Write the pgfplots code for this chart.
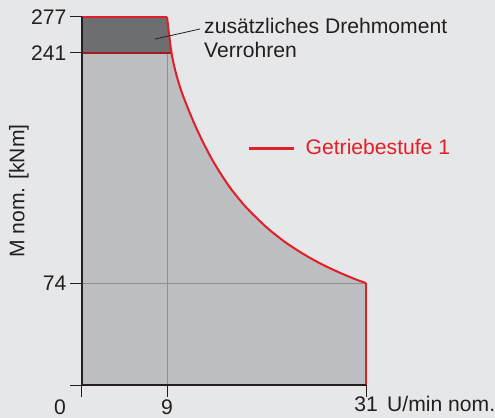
\documentclass[border=0pt]{standalone}
\usepackage{pgfplots}
\usepackage{pgfplotstable}
\pgfplotsset{compat=1.18}
\usepackage{fontspec}
\setmainfont{Liberation Sans}
\definecolor{bg}{HTML}{E6E7E9}
\definecolor{lightfill}{HTML}{BDBEC2}
\definecolor{darkfill}{HTML}{6D6E71}
\definecolor{myred}{HTML}{E41E26}
\definecolor{darkred}{HTML}{9E1B20}
\definecolor{axisgray}{HTML}{231F20}
\definecolor{gridgray}{HTML}{8E8F92}
\newcommand{\fs}{\fontsize{21.2}{25.4}\selectfont}

\pgfplotstableread{
x y
9 277
9.5 241
10 226
10.5 215
11 206
12 190
13 176
14 163.5
15 152.7
16 143
17 134.7
18 127.2
20 114.5
22 104
24 95.4
26 88
28 81.8
30 76.3
31 74
}\curve

\begin{document}
\begin{tikzpicture}
\path[fill=bg, use as bounding box] (-82bp,-33bp) rectangle (413bp,385bp);
\begin{axis}[
  at={(0,0)}, anchor=south west,
  scale only axis, width=284bp, height=368bp,
  xmin=0, xmax=31, ymin=0, ymax=277,
  x coord trafo/.code={\pgfmathparse{#1<=9 ? #1*1.044444 : #1+0.4}},
  x coord inv trafo/.code={\pgfmathparse{#1<=9.4 ? #1/1.044444 : #1-0.4}},
  y coord trafo/.code={\pgfmathparse{#1<=241 ? #1 : 241+(#1-241)*0.725}},
  y coord inv trafo/.code={\pgfmathparse{#1<=241 ? #1 : 241+(#1-241)/0.725}},
  axis lines*=left,
  axis line style={axisgray, line width=1.2bp},
  tick style={axisgray, line width=1bp},
  tick align=outside, major tick length=12bp,
  xtick={0,9,31}, xticklabels={,9,\raisebox{3bp}{31}},
  ytick={0,74,241,277}, yticklabels={,74,241,277},
  ticklabel style={font=\fs, text=axisgray},
  xticklabel style={anchor=base, inner sep=0pt, yshift=-17bp},
  /pgf/number format/assume math mode=true,
  axis on top, clip=false,
  legend style={at={(rel axis cs:0.581,0.644)}, anchor=west, draw=none, fill=none,
    font=\fs, text=myred, inner sep=0pt, nodes={inner sep=0pt}},
  legend image code/.code={\draw[#1, line width=3bp] (0bp,0bp) -- (45bp,0bp); \path (56bp,0bp);},
]
% light grey area
\addplot[fill=lightfill, draw=none, forget plot] coordinates {(0,0) (0,241) (9.5,241) (9.5,0)};
\addplot[fill=lightfill, draw=none, smooth, forget plot, skip coords between index={0}{1}] table[x=x,y=y] {\curve} \closedcycle;
% dark band (additional torque)
\addplot[fill=darkfill, draw=none, forget plot] coordinates {(0,241) (0,277) (9,277) (9.5,241)};
% grid lines
\addplot[gridgray, line width=0.8bp, forget plot] coordinates {(9,0) (9,241)};
\addplot[gridgray, line width=0.8bp, forget plot] coordinates {(0,74) (31,74)};
% boundaries
\addplot[darkred, line width=2bp, forget plot] coordinates {(0,241) (9.5,241)};
\addplot[myred, line width=2bp, forget plot] coordinates {(0,277) (9,277)};
\addplot[myred, line width=2bp, smooth] table[x=x,y=y] {\curve};
\addlegendentry{Getriebestufe 1}
\addplot[myred, line width=2bp, forget plot] coordinates {(31,74) (31,0)};

\draw[axisgray, line width=0.8bp] (rel axis cs:0.257,0.940) -- (rel axis cs:0.4155,0.9674);
\node[anchor=base west, inner sep=0pt, font=\fs, text=axisgray] at (rel axis cs:0.4296,0.9565) {zusätzliches Drehmoment};
\node[anchor=base west, inner sep=0pt, font=\fs, text=axisgray] at (rel axis cs:0.4296,0.8886) {Verrohren};
\node[rotate=90, font=\fs, text=axisgray] at ([xshift=-63bp]rel axis cs:0,0.527) {M nom. [kNm]};
\node[inner sep=0pt, font=\fs, text=axisgray] at ([xshift=-22bp,yshift=-22bp]rel axis cs:0,0) {0};
\node[anchor=base west, inner sep=0pt, font=\fs, text=axisgray] at ([xshift=21bp,yshift=-26bp]rel axis cs:1,0) {U/min nom.};
\end{axis}
\end{tikzpicture}
\end{document}
